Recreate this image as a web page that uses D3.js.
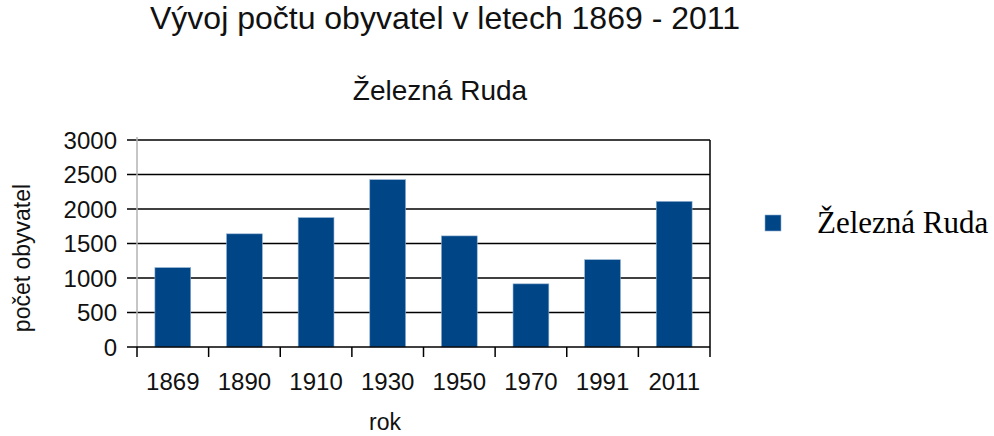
<!DOCTYPE html>
<html>
<head>
<meta charset="utf-8">
<script src="https://cdn.jsdelivr.net/npm/d3@7"></script>
<style>
  body { margin: 0; background: #fff; }
  svg { display: block; }
  text { font-family: "Liberation Sans", Arial, sans-serif; fill: #111; }
</style>
</head>
<body>
<svg width="994" height="436"></svg>
<script>
"use strict";

// data
var years = ["1869", "1890", "1910", "1930", "1950", "1970", "1991", "2011"];
var population = [1150, 1640, 1875, 2425, 1610, 915, 1265, 2110];
var yTicks = [0, 500, 1000, 1500, 2000, 2500, 3000];
var seriesName = "Železná Ruda";

(function() {
    var svg = d3.select("svg");
    var left = 137, right = 710, plotTop = 140, bottom = 347;
    var barColor = "#004586";

    var x = d3.scaleBand().domain(years).range([left, right]).paddingInner(0.5).paddingOuter(0.25);
    var xEdges = d3.scaleBand().domain(years).range([left, right]);
    var y = d3.scaleLinear().domain([0, 3000]).range([bottom, plotTop]);

    // titles
    svg.append("text").attr("x", 445).attr("y", 29).attr("text-anchor", "middle")
        .style("font-size", "32px").text("Vývoj počtu obyvatel v letech 1869 - 2011");
    svg.append("text").attr("x", 440).attr("y", 100).attr("text-anchor", "middle")
        .style("font-size", "28px").text("Železná Ruda");

    // grid lines + short ticks on the left
    svg.append("g").selectAll("line").data(yTicks.filter(function(d) { return d > 0; }))
        .enter().append("line")
        .attr("x1", left - 10).attr("x2", right)
        .attr("y1", function(d) { return y(d); }).attr("y2", function(d) { return y(d); })
        .attr("stroke", "#000").attr("stroke-width", 1.5);

    // left axis line (grey) and right border
    svg.append("line").attr("x1", left).attr("x2", left).attr("y1", plotTop - 3).attr("y2", bottom)
        .attr("stroke", "#b3b3b3").attr("stroke-width", 1.5);
    svg.append("line").attr("x1", right).attr("x2", right).attr("y1", plotTop).attr("y2", bottom + 10)
        .attr("stroke", "#000").attr("stroke-width", 1.5);

    // bars
    svg.append("g").selectAll("rect").data(population).enter().append("rect")
        .attr("x", function(d, i) { return x(years[i]); })
        .attr("width", x.bandwidth())
        .attr("y", function(d) { return y(d); })
        .attr("height", function(d) { return bottom - y(d); })
        .attr("fill", barColor)
        .attr("stroke", "#8fb0d0").attr("stroke-width", 0.6);

    // bottom axis
    svg.append("line").attr("x1", left - 10).attr("x2", right).attr("y1", bottom).attr("y2", bottom)
        .attr("stroke", "#000").attr("stroke-width", 1.5);
    svg.append("g").selectAll("line").data(years).enter().append("line")
        .attr("x1", function(d) { return xEdges(d); }).attr("x2", function(d) { return xEdges(d); })
        .attr("y1", bottom).attr("y2", bottom + 10)
        .attr("stroke", "#000").attr("stroke-width", 1.5);

    // tick labels
    svg.append("g").selectAll("text").data(yTicks).enter().append("text")
        .attr("x", 117).attr("y", function(d) { return y(d) + 8.5; })
        .attr("text-anchor", "end").style("font-size", "24px").text(function(d) { return d; });
    svg.append("g").selectAll("text").data(years).enter().append("text")
        .attr("x", function(d) { return xEdges(d) + xEdges.bandwidth() / 2; }).attr("y", 390)
        .attr("text-anchor", "middle").style("font-size", "24px").text(function(d) { return d; });

    // axis titles
    svg.append("text").attr("x", 385).attr("y", 430).attr("text-anchor", "middle")
        .style("font-size", "23px").text("rok");
    svg.append("text").attr("transform", "translate(30,258) rotate(-90)").attr("text-anchor", "middle")
        .style("font-size", "23px").text("počet obyvatel");

    // legend
    svg.append("rect").attr("x", 765).attr("y", 215).attr("width", 16).attr("height", 16)
        .attr("fill", barColor).attr("stroke", "#8fb0d0").attr("stroke-width", 0.6);
    svg.append("text").attr("x", 817).attr("y", 233)
        .style("font-family", "'Liberation Serif', 'Times New Roman', serif").style("font-size", "31px")
        .style("fill", "#000")
        .text(seriesName);
})();
</script>
</body>
</html>
